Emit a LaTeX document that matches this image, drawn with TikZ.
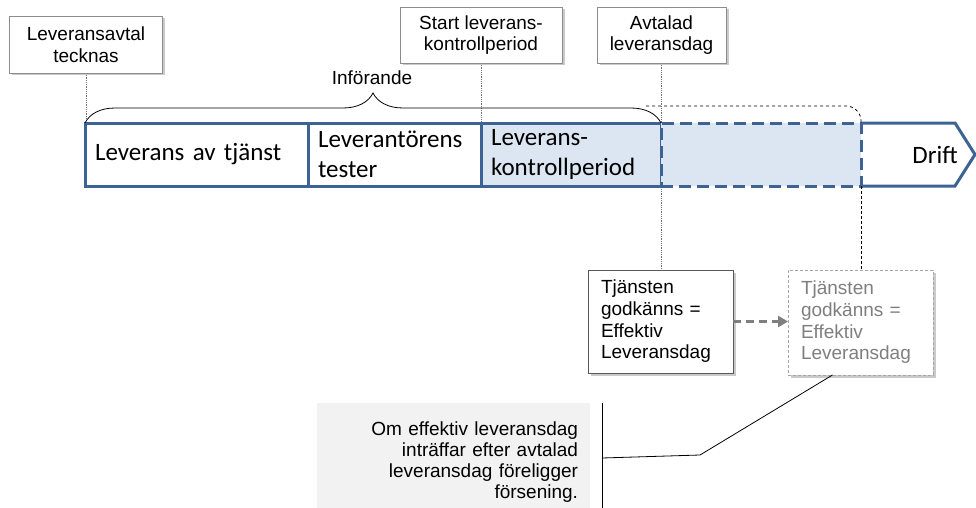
\documentclass[tikz,border=0pt]{standalone}
\usepackage{fontspec}
\setmainfont{Liberation Sans}
\newfontfamily\barfont{Carlito}
\usepackage{xcolor}
\usepackage{tikz}
\usetikzlibrary{positioning,shadows,backgrounds,arrows.meta,decorations.pathreplacing}
\definecolor{barblue}{HTML}{3C6394}
\definecolor{barfill}{HTML}{DCE6F2}
\definecolor{notefill}{HTML}{F2F2F2}
\definecolor{faded}{HTML}{7F7F7F}

\begin{document}
\begin{tikzpicture}[x=1pt, y=-1pt,
                    every node/.style={font=\fontsize{19}{21.7}\selectfont, outer sep=0pt},
                    milestone/.style={draw=black!45, line width=0.8pt, fill=white, align=center,
                      drop shadow={shadow xshift=2.5pt, shadow yshift=-2.5pt, fill=black!60, opacity=0.35}},
                    segment/.style={draw=barblue, line width=3pt, minimum height=63pt, inner xsep=10pt,
                      inner ysep=0pt, align=left, anchor=west, font=\barfont\fontsize{25}{30}\selectfont},
                    outcome/.style={milestone, minimum width=145pt, inner xsep=13pt, text width=119pt, align=left},
                    guide/.style={black!55, line width=0.8pt, densely dotted}]
  \useasboundingbox (0,0) rectangle (976,508);

  \node[milestone, minimum width=153pt, minimum height=57pt] (tecknas) at (86,44.5) {Leveransavtal\\tecknas};
  \node[milestone, minimum width=162pt, minimum height=56pt] (start) at (481,35) {Start leverans-\\kontrollperiod};
  \node[milestone, minimum width=129pt, minimum height=56pt] (avtalad) at (661.5,35) {Avtalad\\leveransdag};

  \node[segment, text width=203pt] (leverans) at (85,154.5) {Leverans av tjänst};
  \node[segment, text width=153pt, right=0pt of leverans] (tester) {Leverantörens\\tester};
  \node[segment, text width=160pt, fill=barfill, right=0pt of tester] (kontroll) {Leverans-\\kontrollperiod};
  \node[segment, minimum width=200pt, fill=barfill, dash pattern=on 12pt off 6pt, right=0pt of kontroll] (sen) {};
  \coordinate (drifttop) at (955,123);
  \coordinate (tip) at (975,154.5);
  \coordinate (driftbot) at (955,186);
  \node[font=\barfont\fontsize{25}{30}\selectfont, anchor=east] (drift) at (961,155) {Drift};

  \node[outcome, draw=black!65, minimum height=103pt] (godkand) at (660.5,321.5) {Tjänsten\\godkänns =\\Effektiv\\Leveransdag};
  \node[outcome, draw=black!35, dash pattern=on 3pt off 2pt, text=faded, minimum height=105pt] (forsenad) at (860.5,322.5) {Tjänsten\\godkänns =\\Effektiv\\Leveransdag};

  \node[fill=notefill, anchor=north west, minimum width=273pt, minimum height=105pt, inner xsep=12pt,
        text width=249pt, text height=26pt, align=right, font=\fontsize{19}{21}\selectfont] (note) at (317,403)
        {Om effektiv leveransdag\\inträffar efter avtalad\\leveransdag föreligger\\försening.};

  \begin{scope}[on background layer]
    \draw[guide] (tecknas) -- (tecknas |- leverans.north);
    \draw[guide] (start) -- (start |- kontroll.north);
    \draw[guide] (avtalad) -- (avtalad |- godkand.north);
    \draw[barblue, line width=3pt, fill=white] (sen.north east) -- (drifttop) -- (tip) -- (driftbot) -- (sen.south east);
  \end{scope}

  \draw[line width=0.8pt, decorate, decoration={brace, amplitude=30pt}] (leverans.north west) -- (kontroll.north east);
  \node (inforande) at (372,78) {Införande};
  \coordinate (ext) at (646,106);
  \draw[line width=0.8pt, dashed, rounded corners=15pt] (ext) -| (sen.north east);

  \draw[line width=0.8pt, densely dashed] (sen.south east) -- (sen.south east |- forsenad.north);
  \draw[faded, line width=2.5pt, dash pattern=on 8pt off 5pt, -{Triangle[length=10pt,width=11pt]}]
    (godkand.east) -- (godkand.east -| forsenad.west);

  \coordinate (accenttop) at (602,403);
  \coordinate (accentbot) at (602,508);
  \coordinate (leaderstart) at (602,458);
  \coordinate (kink) at (700,455);
  \draw[line width=0.8pt] (accenttop) -- (accentbot);
  \draw[line width=0.8pt] (leaderstart) -- (kink) -- ([xshift=-28pt]forsenad.south);
\end{tikzpicture}
\end{document}
